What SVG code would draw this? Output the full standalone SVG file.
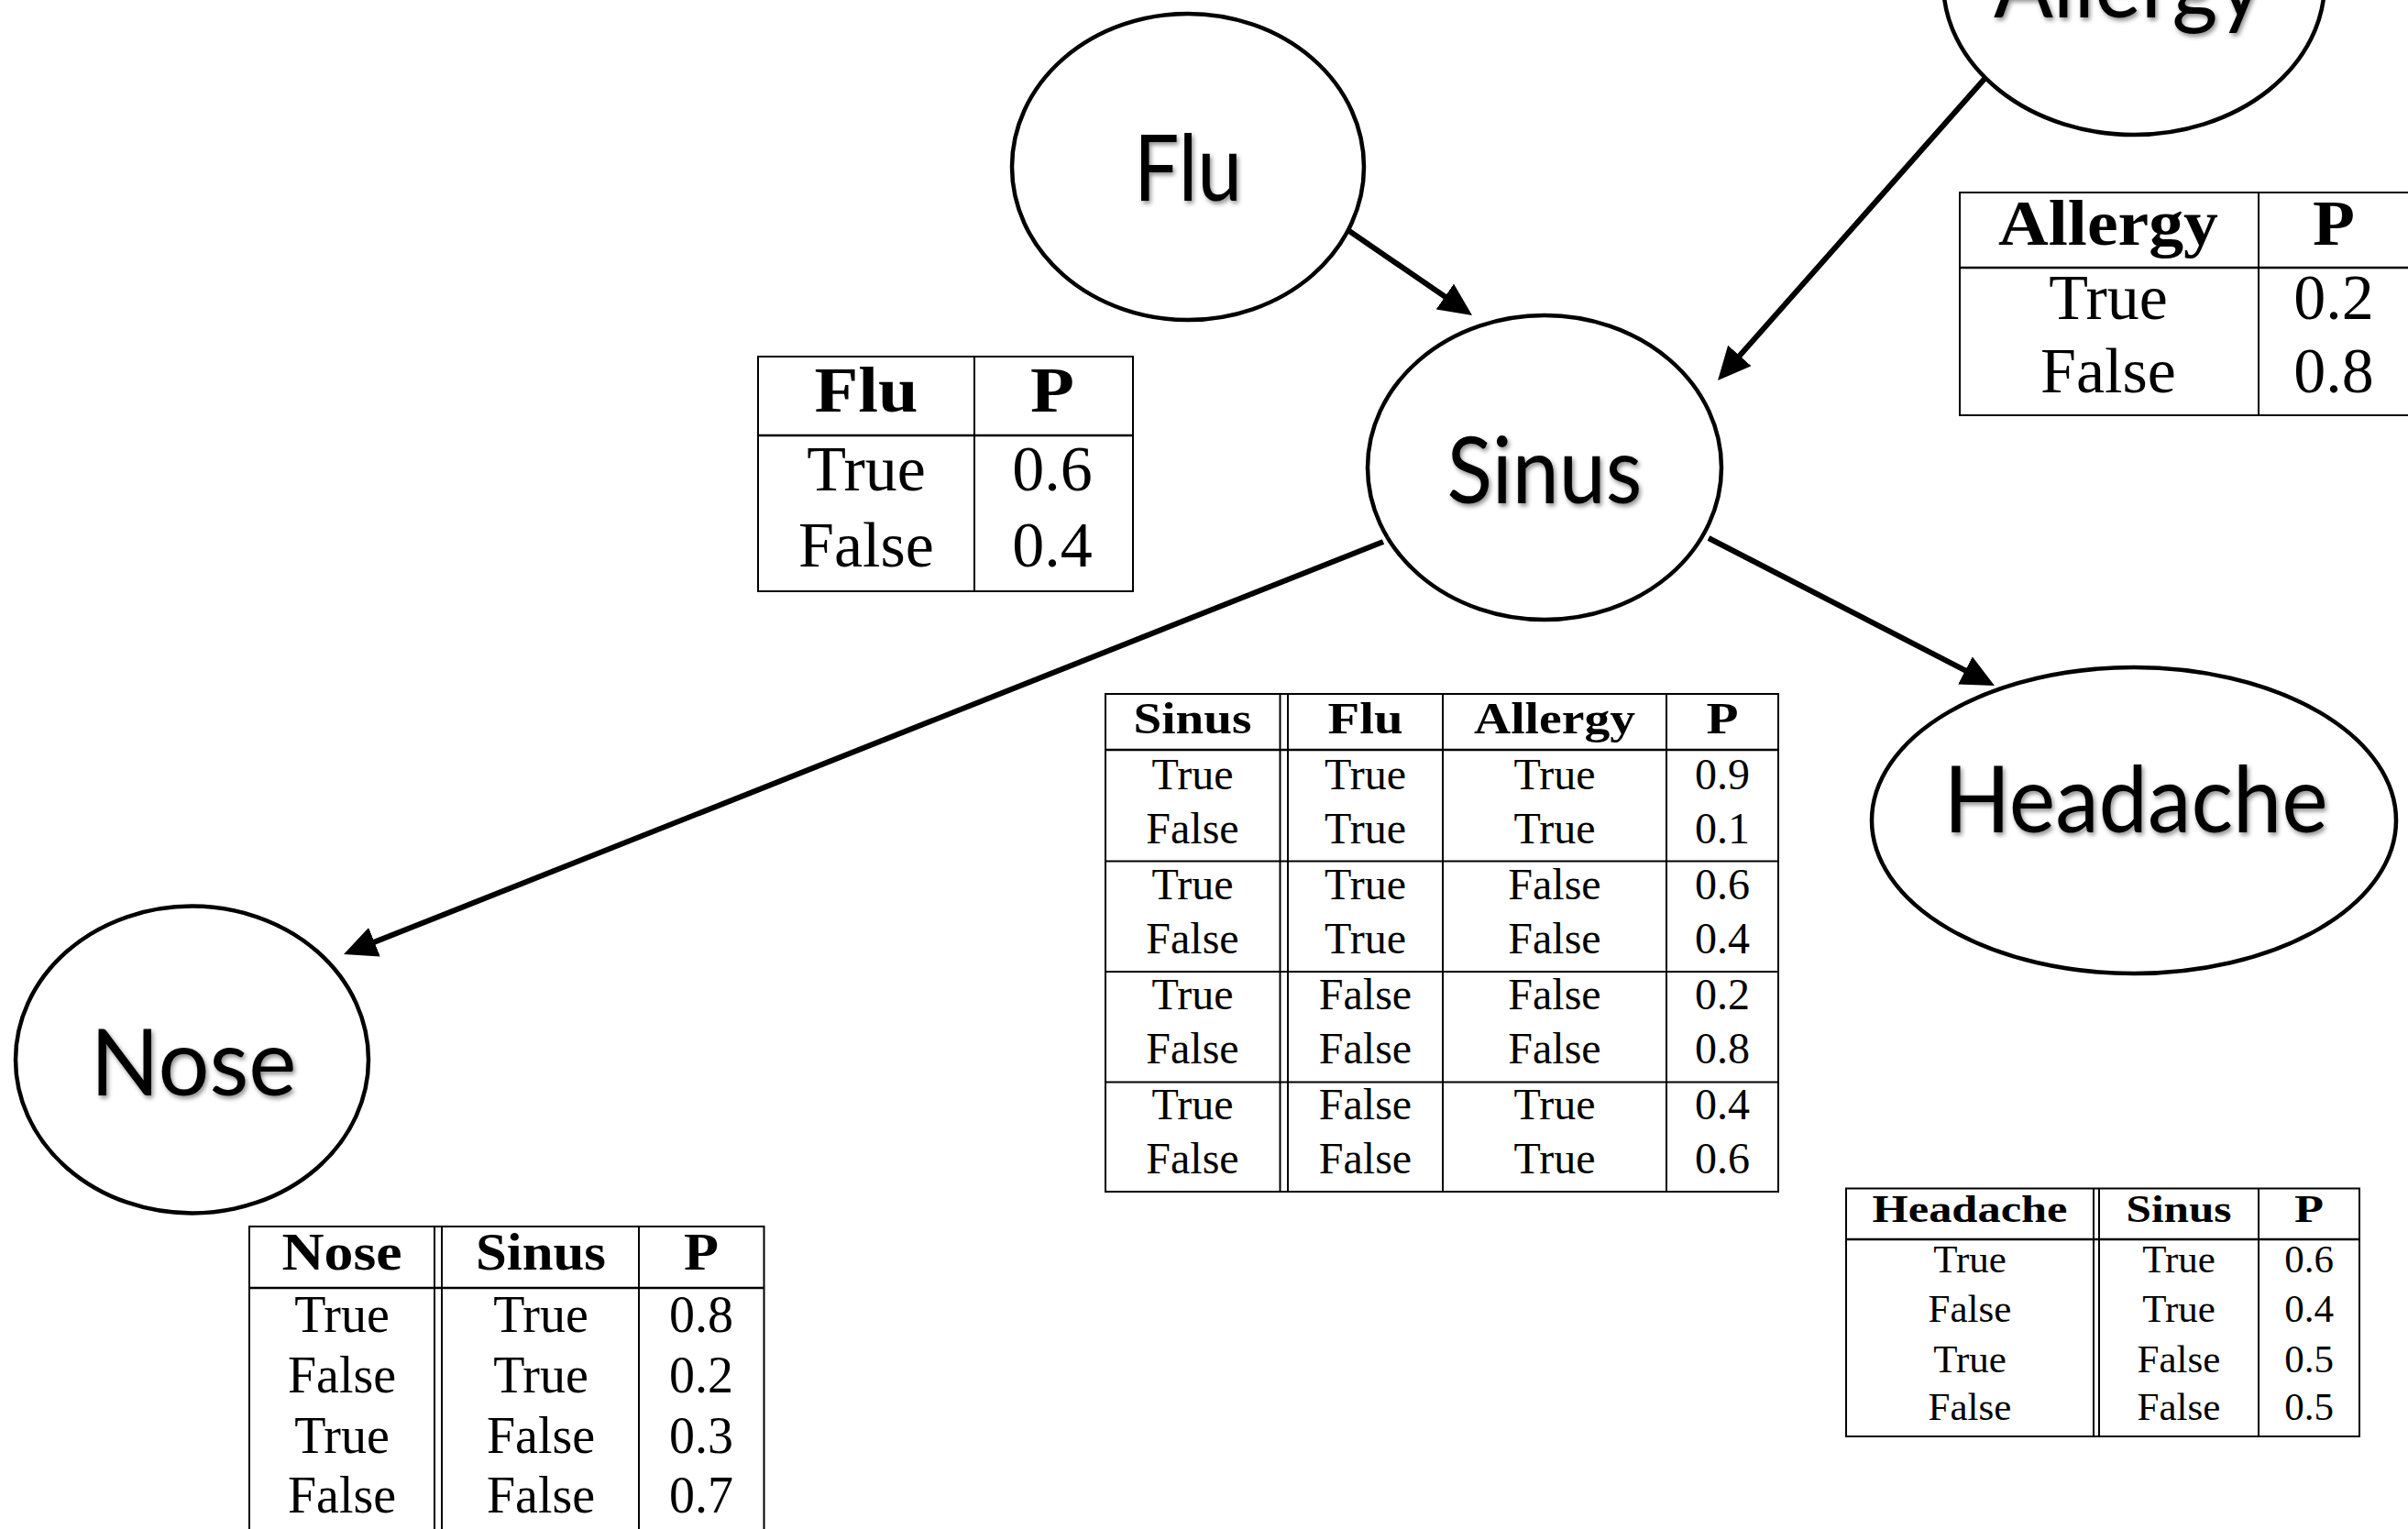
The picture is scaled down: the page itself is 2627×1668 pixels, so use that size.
<svg xmlns="http://www.w3.org/2000/svg" width="2627" height="1668" viewBox="0 0 2627 1668">
<style>
.node ellipse{fill:#fff;stroke:#000;stroke-width:4.5}
.lbl{font-family:Lato,"Open Sans","Liberation Sans",sans-serif;font-size:100px;fill:#000;text-anchor:middle;filter:url(#shadow)}
.edge{stroke:#000;stroke-width:6;fill:none;marker-end:url(#arrow)}
.tbl line,.tbl rect{stroke:#000;stroke-width:2;fill:none}
.tbl .hl{stroke-width:2.6}
.tbl text{font-family:"Liberation Serif","Times New Roman",serif;fill:#000;text-anchor:middle}
.tbl .b{font-weight:bold}
.t70 text{font-size:70px}
.t48 text{font-size:48px}
.t56 text{font-size:56px}
.t43 text{font-size:43px}
</style>
<defs>
<filter id="shadow" x="-10%" y="-20%" width="130%" height="150%">
<feDropShadow dx="2" dy="3" stdDeviation="2.5" flood-color="#000" flood-opacity="0.45"/>
</filter>
<marker id="arrow" markerUnits="userSpaceOnUse" markerWidth="40" markerHeight="36" refX="6" refY="17" orient="auto">
<path d="M0,0 L36,17 L0,34 z" fill="#000"/>
</marker>
</defs>
<rect width="2627" height="1668" fill="#fff"/>

<g id="connectors">
<line class="edge" x1="1472" y1="252" x2="1581.3" y2="327"/>
<line class="edge" x1="2165" y1="86" x2="1893.9" y2="392.5"/>
<line class="edge" x1="1864" y1="587" x2="2149.3" y2="734.2"/>
<line class="edge" x1="1509" y1="591" x2="402.9" y2="1029.9"/>
</g>

<g id="node-flu" class="node">
<ellipse cx="1296" cy="182" rx="192" ry="167"/>
<text class="lbl" x="1296" y="219" textLength="118" lengthAdjust="spacingAndGlyphs">Flu</text>
</g>
<g id="node-allergy" class="node">
<ellipse cx="2328" cy="-19" rx="208" ry="166"/>
<text class="lbl" x="2322" y="19" textLength="294" lengthAdjust="spacingAndGlyphs">Allergy</text>
</g>
<g id="node-sinus" class="node">
<ellipse cx="1685" cy="510" rx="193" ry="166"/>
<text class="lbl" x="1685" y="549" textLength="213" lengthAdjust="spacingAndGlyphs">Sinus</text>
</g>
<g id="node-headache" class="node">
<ellipse cx="2328" cy="895" rx="286" ry="167"/>
<text class="lbl" x="2330" y="908" textLength="419" lengthAdjust="spacingAndGlyphs">Headache</text>
</g>
<g id="node-nose" class="node">
<ellipse cx="209.5" cy="1156" rx="192.5" ry="167.5"/>
<text class="lbl" x="211" y="1195" textLength="225" lengthAdjust="spacingAndGlyphs">Nose</text>
</g>

<g id="cpt-flu" class="tbl t70">
<rect x="827" y="389" width="409" height="256"/>
<line x1="1063" y1="389" x2="1063" y2="645"/>
<line class="hl" x1="827" y1="475" x2="1236" y2="475"/>
<text class="b" x="945" y="449" textLength="113" lengthAdjust="spacingAndGlyphs">Flu</text><text class="b" x="1148" y="449" textLength="48" lengthAdjust="spacingAndGlyphs">P</text>
<text x="945" y="535">True</text><text x="1148" y="535">0.6</text>
<text x="945" y="618">False</text><text x="1148" y="618">0.4</text>
</g>

<g id="cpt-allergy" class="tbl t70">
<rect x="2138" y="210" width="491" height="243"/>
<line x1="2464" y1="210" x2="2464" y2="453"/>
<line class="hl" x1="2138" y1="292" x2="2629" y2="292"/>
<text class="b" x="2300" y="267" textLength="240" lengthAdjust="spacingAndGlyphs">Allergy</text><text class="b" x="2546" y="267" textLength="46" lengthAdjust="spacingAndGlyphs">P</text>
<text x="2300" y="348">True</text><text x="2546" y="348">0.2</text>
<text x="2300" y="428">False</text><text x="2546" y="428">0.8</text>
</g>

<g id="cpt-sinus" class="tbl t48">
<rect x="1206" y="757" width="734" height="543"/>
<line x1="1396.5" y1="757" x2="1396.5" y2="1300"/>
<line x1="1405" y1="757" x2="1405" y2="1300"/>
<line x1="1574" y1="757" x2="1574" y2="1300"/>
<line x1="1818" y1="757" x2="1818" y2="1300"/>
<line class="hl" x1="1206" y1="818" x2="1940" y2="818"/>
<line x1="1206" y1="939.5" x2="1940" y2="939.5"/>
<line x1="1206" y1="1060" x2="1940" y2="1060"/>
<line x1="1206" y1="1180.5" x2="1940" y2="1180.5"/>
<text class="b" x="1301" y="799.5" textLength="129" lengthAdjust="spacingAndGlyphs">Sinus</text><text class="b" x="1489.5" y="799.5" textLength="82" lengthAdjust="spacingAndGlyphs">Flu</text><text class="b" x="1696" y="799.5" textLength="176" lengthAdjust="spacingAndGlyphs">Allergy</text><text class="b" x="1879" y="799.5" textLength="35" lengthAdjust="spacingAndGlyphs">P</text>
<text x="1301" y="860.5">True</text><text x="1489.5" y="860.5">True</text><text x="1696" y="860.5">True</text><text x="1879" y="860.5">0.9</text>
<text x="1301" y="919.5">False</text><text x="1489.5" y="919.5">True</text><text x="1696" y="919.5">True</text><text x="1879" y="919.5">0.1</text>
<text x="1301" y="980.5">True</text><text x="1489.5" y="980.5">True</text><text x="1696" y="980.5">False</text><text x="1879" y="980.5">0.6</text>
<text x="1301" y="1039.5">False</text><text x="1489.5" y="1039.5">True</text><text x="1696" y="1039.5">False</text><text x="1879" y="1039.5">0.4</text>
<text x="1301" y="1100.5">True</text><text x="1489.5" y="1100.5">False</text><text x="1696" y="1100.5">False</text><text x="1879" y="1100.5">0.2</text>
<text x="1301" y="1160">False</text><text x="1489.5" y="1160">False</text><text x="1696" y="1160">False</text><text x="1879" y="1160">0.8</text>
<text x="1301" y="1220.5">True</text><text x="1489.5" y="1220.5">False</text><text x="1696" y="1220.5">True</text><text x="1879" y="1220.5">0.4</text>
<text x="1301" y="1280">False</text><text x="1489.5" y="1280">False</text><text x="1696" y="1280">True</text><text x="1879" y="1280">0.6</text>
</g>

<g id="cpt-nose" class="tbl t56">
<rect x="272" y="1338" width="561.5" height="360"/>
<line x1="474" y1="1338" x2="474" y2="1698"/>
<line x1="482" y1="1338" x2="482" y2="1698"/>
<line x1="697" y1="1338" x2="697" y2="1698"/>
<line class="hl" x1="272" y1="1405" x2="833.5" y2="1405"/>
<text class="b" x="373" y="1385" textLength="131" lengthAdjust="spacingAndGlyphs">Nose</text><text class="b" x="590" y="1385" textLength="142" lengthAdjust="spacingAndGlyphs">Sinus</text><text class="b" x="765" y="1385" textLength="38" lengthAdjust="spacingAndGlyphs">P</text>
<text x="373" y="1453">True</text><text x="590" y="1453">True</text><text x="765" y="1453">0.8</text>
<text x="373" y="1519">False</text><text x="590" y="1519">True</text><text x="765" y="1519">0.2</text>
<text x="373" y="1585">True</text><text x="590" y="1585">False</text><text x="765" y="1585">0.3</text>
<text x="373" y="1650">False</text><text x="590" y="1650">False</text><text x="765" y="1650">0.7</text>
</g>

<g id="cpt-headache" class="tbl t43">
<rect x="2014" y="1296.5" width="560" height="270.5"/>
<line x1="2284" y1="1296.5" x2="2284" y2="1567"/>
<line x1="2290" y1="1296.5" x2="2290" y2="1567"/>
<line x1="2464" y1="1296.5" x2="2464" y2="1567"/>
<line class="hl" x1="2014" y1="1352" x2="2574" y2="1352"/>
<text class="b" x="2149" y="1333" textLength="213" lengthAdjust="spacingAndGlyphs">Headache</text><text class="b" x="2377" y="1333" textLength="115" lengthAdjust="spacingAndGlyphs">Sinus</text><text class="b" x="2519" y="1333" textLength="32" lengthAdjust="spacingAndGlyphs">P</text>
<text x="2149" y="1388">True</text><text x="2377" y="1388">True</text><text x="2519" y="1388">0.6</text>
<text x="2149" y="1442">False</text><text x="2377" y="1442">True</text><text x="2519" y="1442">0.4</text>
<text x="2149" y="1497">True</text><text x="2377" y="1497">False</text><text x="2519" y="1497">0.5</text>
<text x="2149" y="1549">False</text><text x="2377" y="1549">False</text><text x="2519" y="1549">0.5</text>
</g>
</svg>
